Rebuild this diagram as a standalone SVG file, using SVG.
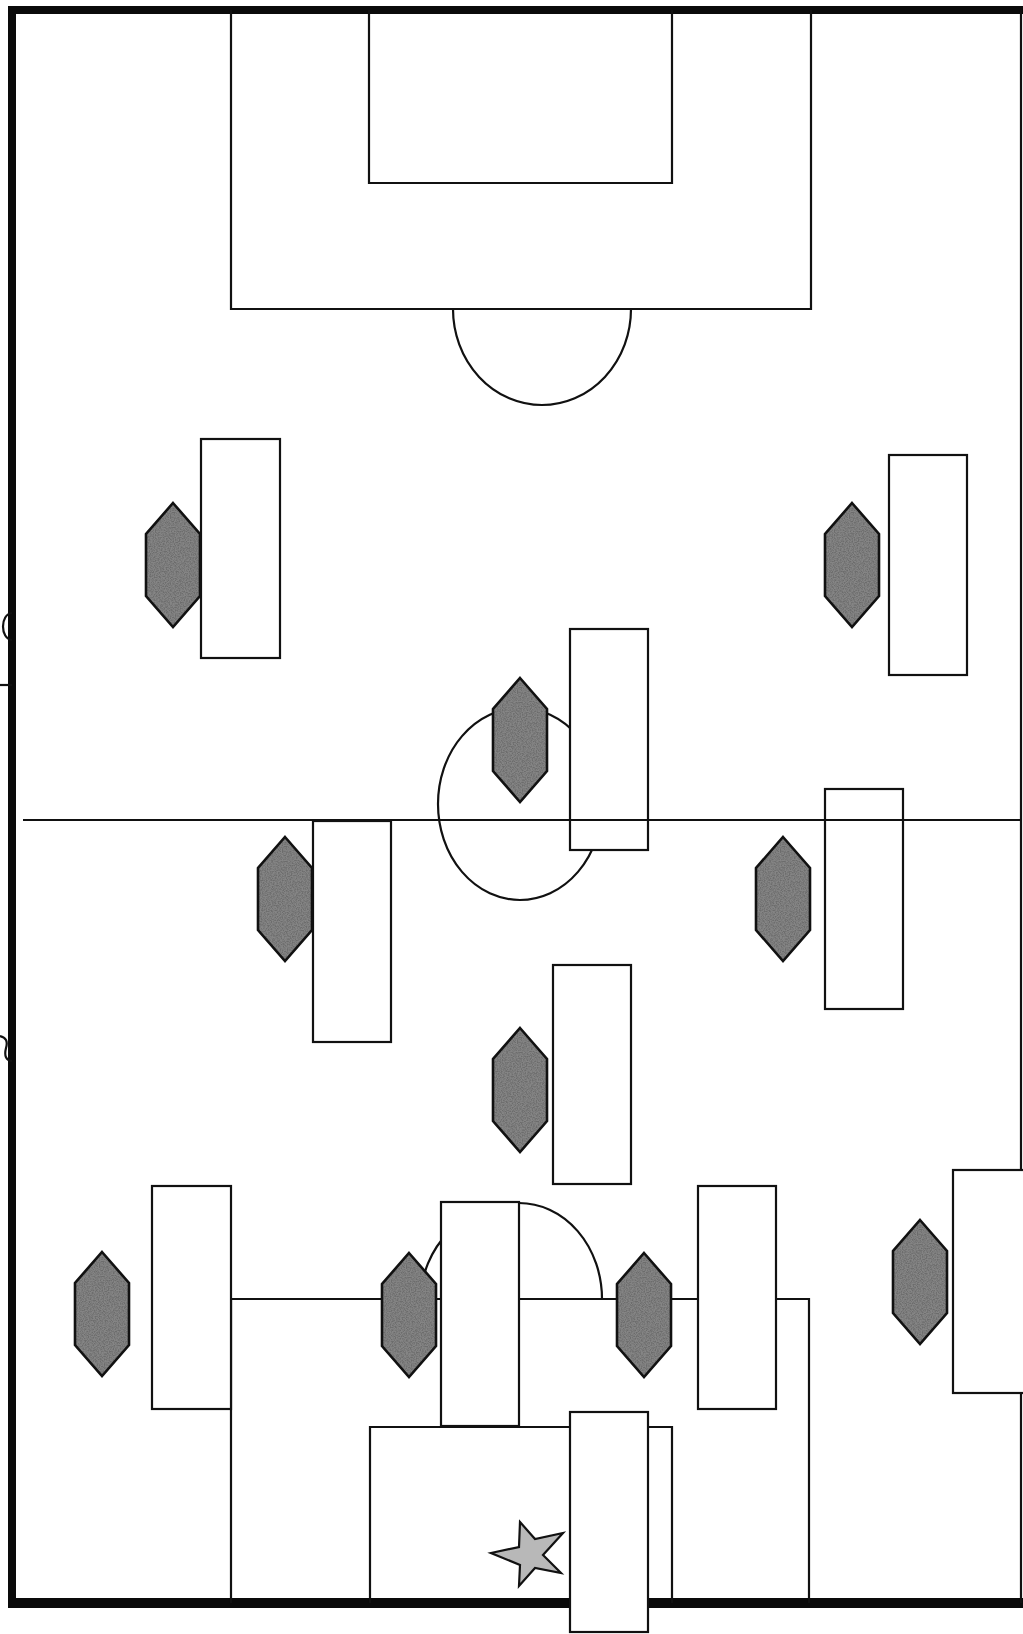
<svg xmlns="http://www.w3.org/2000/svg" width="1023" height="1634" viewBox="0 0 1023 1634">
<defs>
<filter id="speck" x="0" y="0" width="100%" height="100%">
<feTurbulence type="fractalNoise" baseFrequency="0.8" numOctaves="2" seed="3" result="n"/>
<feColorMatrix in="n" type="matrix" values="0 0 0 0 0.15  0 0 0 0 0.15  0 0 0 0 0.15  0 0 0 -2.6 1.7" result="g"/>
<feComposite in="g" in2="SourceGraphic" operator="in" result="t"/>
<feMerge><feMergeNode in="SourceGraphic"/><feMergeNode in="t"/></feMerge>
</filter>
<polygon id="hexshape" points="0,-62 27,-31 27,31 0,62 -27,31 -27,-31"/>
<style>
.ln{fill:none;stroke:#111;stroke-width:2.2}
.bd{fill:none;stroke:#0a0a0a}
.pl{fill:#fff;stroke:#111;stroke-width:2.2}
.hf{fill:#858585;stroke:none}
.ho{fill:none;stroke:#111;stroke-width:2.6;stroke-linejoin:miter}
.st{fill:#b8b8b8;stroke:#111;stroke-width:2.2}
</style>
</defs>
<rect x="0" y="0" width="1023" height="1634" fill="#fff"/>
<g id="pitch">
<line class="bd" x1="8" y1="10" x2="1023" y2="10" stroke-width="8"/>
<line class="bd" x1="12" y1="6" x2="12" y2="1608" stroke-width="8"/>
<line class="bd" x1="8" y1="1603" x2="1023" y2="1603" stroke-width="10"/>
<line class="ln" x1="1021" y1="10" x2="1021" y2="1603" stroke-width="1.5"/>
<polyline class="ln" points="231,10 231,309 811,309 811,10"/>
<polyline class="ln" points="369,10 369,183 672,183 672,10"/>
<path class="ln" d="M453,309 A89,96 0 0 0 631,309"/>
<ellipse class="ln" cx="520" cy="804" rx="82" ry="96"/>
<polyline class="ln" points="231,1603 231,1299 809,1299 809,1603"/>
<polyline class="ln" points="370,1603 370,1427 672,1427 672,1603"/>
<path class="ln" d="M421,1299 A98,96 0 0 1 519,1203 A83,96 0 0 1 602,1299"/>
<path class="ln" d="M12,613 C0,614 0,639 12,640"/>
<line class="ln" x1="0" y1="685" x2="12" y2="685"/>
<path class="ln" d="M0,1036 Q9,1038 6,1048 Q3,1060 12,1061"/>
</g>
<g id="players-rects">
<g id="r1"><rect class="pl" x="201" y="439" width="79" height="219"/></g>
<g id="r2"><rect class="pl" x="889" y="455" width="78" height="220"/></g>
<g id="r3"><rect class="pl" x="570" y="629" width="78" height="221"/></g>
<g id="r4"><rect class="pl" x="313" y="821" width="78" height="221"/></g>
<g id="r5"><rect class="pl" x="825" y="789" width="78" height="220"/></g>
<g id="r6"><rect class="pl" x="553" y="965" width="78" height="219"/></g>
<g id="r7"><rect class="pl" x="152" y="1186" width="79" height="223"/></g>
<g id="r8"><rect class="pl" x="441" y="1202" width="78" height="224"/></g>
<g id="r9"><rect class="pl" x="698" y="1186" width="78" height="223"/></g>
<g id="r10"><rect class="pl" x="953" y="1170" width="80" height="223"/></g>
<g id="r11"><rect class="pl" x="570" y="1412" width="78" height="220"/></g>
</g>
<g id="halfway">
<line class="ln" x1="23" y1="820" x2="1021" y2="820"/>
</g>
<g id="players-hex">
<g id="h1" transform="translate(173,565)"><use href="#hexshape" class="hf" filter="url(#speck)"/><use href="#hexshape" class="ho"/></g>
<g id="h2" transform="translate(852,565)"><use href="#hexshape" class="hf" filter="url(#speck)"/><use href="#hexshape" class="ho"/></g>
<g id="h3" transform="translate(520,740)"><use href="#hexshape" class="hf" filter="url(#speck)"/><use href="#hexshape" class="ho"/></g>
<g id="h4" transform="translate(285,899)"><use href="#hexshape" class="hf" filter="url(#speck)"/><use href="#hexshape" class="ho"/></g>
<g id="h5" transform="translate(783,899)"><use href="#hexshape" class="hf" filter="url(#speck)"/><use href="#hexshape" class="ho"/></g>
<g id="h6" transform="translate(520,1090)"><use href="#hexshape" class="hf" filter="url(#speck)"/><use href="#hexshape" class="ho"/></g>
<g id="h7" transform="translate(102,1314)"><use href="#hexshape" class="hf" filter="url(#speck)"/><use href="#hexshape" class="ho"/></g>
<g id="h8" transform="translate(409,1315)"><use href="#hexshape" class="hf" filter="url(#speck)"/><use href="#hexshape" class="ho"/></g>
<g id="h9" transform="translate(644,1315)"><use href="#hexshape" class="hf" filter="url(#speck)"/><use href="#hexshape" class="ho"/></g>
<g id="h10" transform="translate(920,1282)"><use href="#hexshape" class="hf" filter="url(#speck)"/><use href="#hexshape" class="ho"/></g>
</g>
<g id="ball">
<polygon class="st" points="520,1522 535,1539 563,1533 543,1555 561,1573 535,1568 519,1586 520,1565 491,1553 519,1547"/>
</g>
</svg>
